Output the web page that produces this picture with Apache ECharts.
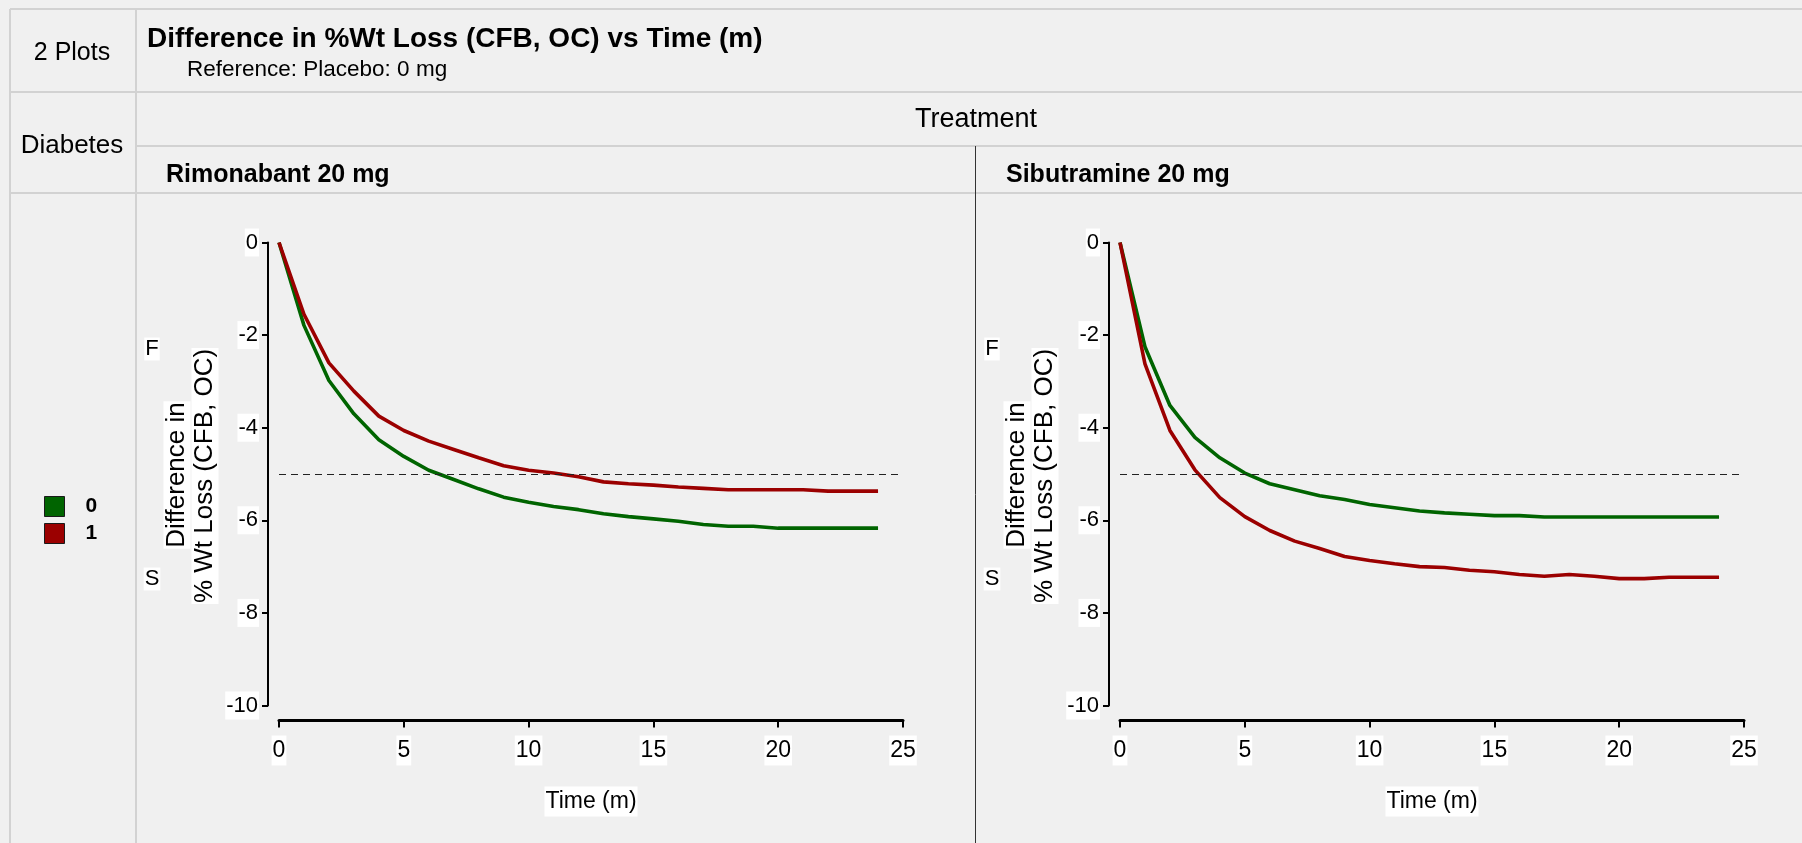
<!DOCTYPE html>
<html>
<head>
<meta charset="utf-8">
<script src="https://cdn.jsdelivr.net/npm/echarts@6/dist/echarts.min.js"></script>
<style>
  html, body { margin: 0; padding: 0; background: #f0f0f0; }
  #chart { width: 1802px; height: 843px; }
</style>
</head>
<body>
<div id="chart"></div>
<script>
// Tiempo en meses (eje X común a los dos paneles)
const months = [0, 1, 2, 3, 4, 5, 6, 7, 8, 9, 10, 11, 12, 13, 14, 15, 16, 17, 18, 19, 20, 21, 22, 23, 24];

// Rimonabant 20 mg: diferencia vs placebo, por grupo de diabetes
const rimoDiab0 = [0, -1.79, -2.98, -3.70, -4.26, -4.62, -4.92, -5.12, -5.32, -5.50, -5.61, -5.70, -5.77, -5.86, -5.92, -5.97, -6.02, -6.09, -6.13, -6.13, -6.17, -6.17, -6.17, -6.17, -6.17];
const rimoDiab1 = [0, -1.55, -2.60, -3.21, -3.75, -4.06, -4.29, -4.47, -4.65, -4.82, -4.92, -4.98, -5.06, -5.17, -5.21, -5.24, -5.28, -5.31, -5.34, -5.34, -5.34, -5.34, -5.37, -5.37, -5.37];

// Sibutramine 20 mg
const sibuDiab0 = [0, -2.25, -3.52, -4.21, -4.65, -4.98, -5.21, -5.34, -5.47, -5.55, -5.66, -5.73, -5.80, -5.84, -5.87, -5.90, -5.90, -5.93, -5.93, -5.93, -5.93, -5.93, -5.93, -5.93, -5.93];
const sibuDiab1 = [0, -2.62, -4.06, -4.91, -5.51, -5.92, -6.22, -6.45, -6.61, -6.78, -6.87, -6.94, -7.00, -7.02, -7.08, -7.11, -7.17, -7.21, -7.17, -7.21, -7.26, -7.26, -7.23, -7.23, -7.23];

const panelNames = ['Rimonabant 20 mg', 'Sibutramine 20 mg'];
const groupNames = ['0', '1'];
const refLine = -5;

const FONT = "'Liberation Sans', Arial, sans-serif";
const GREEN = '#006400';
const RED = '#9b0000';
const FRAME = '#d2d2d2';

const pair = (ys) => months.map((m, i) => [m, ys[i]]);

const chart = echarts.init(document.getElementById('chart'), null, { renderer: 'canvas' });

const gridLefts = [279, 1120];
const grids = gridLefts.map((l) => ({ left: l, top: 242.5, width: 624, height: 463 }));

const labelBox = { color: '#000', backgroundColor: '#fff', fontFamily: FONT };

const xAxes = grids.map((g, i) => ({
  type: 'value', gridIndex: i, min: 0, max: 25, interval: 5, offset: 15,
  axisLine: { show: true, onZero: false, lineStyle: { color: '#000', width: 3 } },
  axisTick: { show: true, length: 7, lineStyle: { color: '#000', width: 2 } },
  axisLabel: Object.assign({ margin: 15, fontSize: 23, lineHeight: 30, padding: [0, 1] }, labelBox),
  splitLine: { show: false },
  name: 'Time (m)', nameLocation: 'middle', nameGap: 66,
  nameTextStyle: Object.assign({ fontSize: 23, lineHeight: 30, padding: [0, 1] }, labelBox)
}));

const yAxes = grids.map((g, i) => ({
  type: 'value', gridIndex: i, min: -10, max: 0, interval: 2, offset: 11,
  axisLine: { show: true, onZero: false, lineStyle: { color: '#000', width: 2 } },
  axisTick: { show: true, length: 6, lineStyle: { color: '#000', width: 2 } },
  axisLabel: Object.assign({ margin: 9, fontSize: 22, lineHeight: 28, padding: [0, 1] }, labelBox),
  splitLine: { show: false }
}));

const panelData = [[rimoDiab0, rimoDiab1], [sibuDiab0, sibuDiab1]];
const series = [];
panelData.forEach((groups, p) => {
  groups.forEach((ys, g) => {
    series.push({
      name: groupNames[g], type: 'line', xAxisIndex: p, yAxisIndex: p,
      data: pair(ys), showSymbol: false, smooth: false,
      color: g === 0 ? GREEN : RED,
      lineStyle: { width: 3.6, color: g === 0 ? GREEN : RED },
      z: g === 0 ? 3 : 4,
      markLine: g === 0 ? {
        silent: true, symbol: 'none', label: { show: false },
        lineStyle: { type: [7, 5], color: '#222', width: 1 },
        data: [{ yAxis: refLine }]
      } : undefined
    });
  });
});

// marco de la tabla y rótulos
const hline = (x1, x2, y, color, w) => ({ type: 'line', silent: true, shape: { x1, y1: y, x2, y2: y }, style: { stroke: color || FRAME, lineWidth: w || 2 } });
const vline = (x, y1, y2, color, w) => ({ type: 'line', silent: true, shape: { x1: x, y1, x2: x, y2 }, style: { stroke: color || FRAME, lineWidth: w || 2 } });
const txt = (x, y, text, size, weight, align, extra) => ({
  type: 'text', silent: true, x, y,
  style: Object.assign({ text, fontFamily: FONT, fontSize: size, fontWeight: weight || 'normal', fill: '#000', align: align || 'left', verticalAlign: 'middle' }, extra || {})
});
const boxed = { backgroundColor: '#fff', padding: [1, 1, 0, 1] };

const graphics = [
  hline(10, 1802, 9), vline(10, 9, 843), vline(136, 9, 843),
  hline(10, 1802, 92), hline(136, 1802, 146), hline(10, 1802, 193),
  vline(975.5, 146, 843, '#333', 1),
  txt(72, 53, '2 Plots', 25, 'normal', 'center'),
  txt(147, 39, 'Difference in %Wt Loss (CFB, OC) vs Time (m)', 28, 'bold'),
  txt(187, 70, 'Reference: Placebo: 0 mg', 22.5, 'normal'),
  txt(72, 146, 'Diabetes', 26, 'normal', 'center'),
  txt(976, 120, 'Treatment', 27, 'normal', 'center'),
  txt(166, 175, panelNames[0], 25, 'bold'),
  txt(1006, 175, panelNames[1], 25, 'bold')
];
[152, 992].forEach((fx, p) => {
  graphics.push(txt(fx, 349, 'F', 22, 'normal', 'center', boxed));
  graphics.push(txt(fx, 579, 'S', 22, 'normal', 'center', boxed));
  const base = p === 0 ? 0 : 840;
  graphics.push(Object.assign(txt(177 + base, 475, 'Difference in', 26, 'normal', 'center', boxed), { rotation: Math.PI / 2 }));
  graphics.push(Object.assign(txt(205 + base, 476, '% Wt Loss (CFB, OC)', 26, 'normal', 'center', boxed), { rotation: Math.PI / 2 }));
});

chart.setOption({
  animation: false,
  backgroundColor: '#f0f0f0',
  grid: grids,
  xAxis: xAxes,
  yAxis: yAxes,
  legend: {
    orient: 'vertical', left: 39, top: 491, itemGap: 6,
    itemWidth: 20, itemHeight: 20, icon: 'rect',
    data: groupNames,
    textStyle: { fontFamily: FONT, fontSize: 21, fontWeight: 'bold', color: '#000', padding: [0, 0, 0, 16] },
    itemStyle: { borderColor: '#1a1a1a', borderWidth: 1 },
    selectedMode: false
  },
  series,
  graphic: graphics
});
</script>
</body>
</html>
